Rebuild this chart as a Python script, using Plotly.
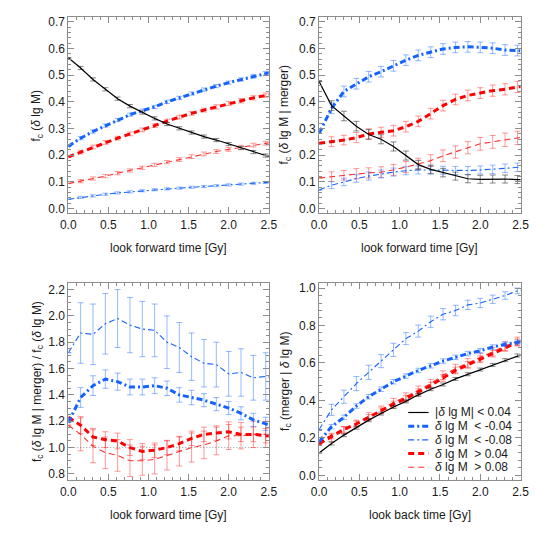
import plotly.graph_objects as go

# sample times [Gy]; last point lies just outside the plotted range
time_gy = [0.0, 0.154, 0.308, 0.462, 0.615, 0.769, 0.923, 1.077, 1.231,
           1.385, 1.538, 1.692, 1.846, 2.0, 2.154, 2.308, 2.462, 2.615]

# panel a: f_c(d lg M), look forward
fc_stable = [0.565, 0.527, 0.484, 0.447, 0.412, 0.384, 0.360, 0.338, 0.317,
             0.301, 0.285, 0.270, 0.257, 0.242, 0.227, 0.212, 0.199, 0.188]
fc_loss04 = [0.233, 0.264, 0.289, 0.311, 0.332, 0.352, 0.367, 0.381, 0.400,
             0.415, 0.431, 0.446, 0.459, 0.472, 0.484, 0.496, 0.507, 0.517]
fc_loss08 = [0.035, 0.042, 0.048, 0.054, 0.059, 0.063, 0.067, 0.071, 0.074,
             0.077, 0.080, 0.083, 0.086, 0.089, 0.092, 0.095, 0.098, 0.101]
fc_gain04 = [0.194, 0.212, 0.231, 0.248, 0.264, 0.280, 0.295, 0.311, 0.328,
             0.343, 0.357, 0.369, 0.381, 0.394, 0.404, 0.415, 0.425, 0.433]
fc_gain08 = [0.094, 0.103, 0.113, 0.122, 0.133, 0.143, 0.153, 0.164, 0.174,
             0.184, 0.195, 0.205, 0.214, 0.222, 0.230, 0.238, 0.245, 0.252]
err_fc_stable = [None, 0.006, 0.006, 0.006, 0.006, 0.006, 0.006, 0.006, 0.006,
                 0.006, 0.006, 0.006, 0.006, 0.006, 0.006, 0.006, 0.006, None]
err_fc_loss04 = [None, 0.006, 0.006, 0.006, 0.006, 0.006, 0.006, 0.006, 0.006,
                 0.006, 0.006, 0.006, 0.006, 0.006, 0.006, 0.007, 0.007, None]
err_fc_loss08 = [None, 0.004, 0.004, 0.004, 0.004, 0.004, 0.004, 0.004, 0.004,
                 0.004, 0.004, 0.004, 0.004, 0.004, 0.004, 0.004, 0.004, None]
err_fc_gain04 = [None, 0.007, 0.007, 0.007, 0.007, 0.007, 0.007, 0.007, 0.007,
                 0.007, 0.007, 0.007, 0.008, 0.008, 0.008, 0.008, 0.008, None]
err_fc_gain08 = [None, 0.006, 0.006, 0.006, 0.006, 0.006, 0.006, 0.006, 0.006,
                 0.007, 0.007, 0.007, 0.007, 0.007, 0.007, 0.007, 0.007, None]

# panel b: f_c(d lg M | merger), look forward
fm_stable = [0.476, 0.386, 0.347, 0.309, 0.278, 0.260, 0.233, 0.199, 0.165,
             0.147, 0.135, 0.122, 0.112, 0.110, 0.111, 0.111, 0.109, 0.108]
fm_loss04 = [0.282, 0.376, 0.439, 0.468, 0.494, 0.513, 0.535, 0.556, 0.574,
             0.586, 0.598, 0.604, 0.606, 0.604, 0.601, 0.594, 0.592, 0.590]
fm_loss08 = [0.070, 0.088, 0.100, 0.113, 0.122, 0.130, 0.137, 0.142, 0.145,
             0.145, 0.144, 0.143, 0.143, 0.145, 0.147, 0.151, 0.155, 0.158]
fm_gain04 = [0.245, 0.251, 0.257, 0.266, 0.280, 0.286, 0.292, 0.307, 0.327,
             0.356, 0.386, 0.409, 0.424, 0.433, 0.442, 0.447, 0.456, 0.460]
fm_gain08 = [0.115, 0.120, 0.125, 0.131, 0.134, 0.137, 0.145, 0.156, 0.168,
             0.180, 0.198, 0.212, 0.228, 0.243, 0.250, 0.258, 0.265, 0.272]
err_fm_stable = [None, 0.018, 0.018, 0.018, 0.018, 0.017, 0.017, 0.017, 0.016,
                 0.016, 0.016, 0.015, 0.015, 0.015, 0.015, 0.015, 0.015, None]
err_fm_loss04 = [None, 0.020, 0.020, 0.020, 0.020, 0.020, 0.020, 0.020, 0.020,
                 0.020, 0.020, 0.020, 0.020, 0.020, 0.020, 0.020, 0.020, None]
err_fm_loss08 = [None, 0.013, 0.014, 0.014, 0.015, 0.015, 0.015, 0.015, 0.015,
                 0.015, 0.015, 0.015, 0.015, 0.015, 0.016, 0.016, 0.016, None]
err_fm_gain04 = [None, 0.018, 0.018, 0.019, 0.019, 0.019, 0.020, 0.020, 0.020,
                 0.020, 0.020, 0.020, 0.020, 0.020, 0.021, 0.021, 0.021, None]
err_fm_gain08 = [None, 0.018, 0.018, 0.019, 0.019, 0.020, 0.020, 0.021, 0.021,
                 0.022, 0.022, 0.023, 0.023, 0.024, 0.024, 0.025, 0.025, None]

# panel c: ratio f_c(d lg M | merger) / f_c(d lg M)
ratio_loss04 = [1.19, 1.38, 1.47, 1.52, 1.50, 1.46, 1.46, 1.47, 1.45,
                1.40, 1.38, 1.36, 1.33, 1.30, 1.26, 1.21, 1.18, 1.15]
ratio_loss08 = [1.72, 1.87, 1.86, 1.94, 1.98, 1.93, 1.90, 1.89, 1.80,
                1.76, 1.69, 1.64, 1.63, 1.56, 1.57, 1.53, 1.54, 1.52]
ratio_gain04 = [1.23, 1.17, 1.08, 1.06, 1.05, 1.00, 0.97, 0.98, 1.00,
                1.03, 1.07, 1.10, 1.11, 1.12, 1.10, 1.10, 1.09, 1.08]
ratio_gain08 = [1.17, 1.10, 1.01, 0.96, 0.94, 0.90, 0.90, 0.91, 0.94,
                0.97, 1.00, 1.02, 1.05, 1.09, 1.09, 1.10, 1.10, 1.10]
err_ratio_loss04 = [None, 0.075, 0.075, 0.07, 0.065, 0.06, 0.06, 0.06, 0.055,
                    0.055, 0.055, 0.05, 0.05, 0.05, 0.05, 0.05, 0.05, None]
err_ratio_loss08 = [None, 0.23, 0.23, 0.23, 0.22, 0.21, 0.21, 0.20, 0.20,
                    0.19, 0.18, 0.18, 0.17, 0.17, 0.18, 0.17, 0.18, None]
err_ratio_gain04 = [None, 0.065, 0.065, 0.06, 0.06, 0.06, 0.06, 0.055, 0.055,
                    0.055, 0.055, 0.055, 0.055, 0.055, 0.055, 0.055, 0.055, None]
err_ratio_gain08 = [None, 0.125, 0.125, 0.12, 0.12, 0.12, 0.11, 0.11, 0.11,
                    0.11, 0.11, 0.105, 0.105, 0.105, 0.10, 0.10, 0.10, None]
RATIO_UNITY = 1.0

# panel d: f_c(merger | d lg M), look back
fb_stable = [0.120, 0.170, 0.215, 0.255, 0.295, 0.330, 0.365, 0.395, 0.430,
             0.460, 0.485, 0.515, 0.540, 0.565, 0.590, 0.615, 0.640, 0.660]
fb_loss04 = [0.180, 0.260, 0.310, 0.370, 0.420, 0.460, 0.500, 0.530, 0.560,
             0.585, 0.610, 0.630, 0.650, 0.665, 0.685, 0.700, 0.710, 0.720]
fb_loss08 = [0.245, 0.350, 0.420, 0.490, 0.550, 0.610, 0.670, 0.730, 0.770,
             0.820, 0.860, 0.880, 0.910, 0.920, 0.940, 0.960, 0.985, 1.000]
fb_gain04 = [0.170, 0.210, 0.245, 0.275, 0.310, 0.345, 0.380, 0.410, 0.445,
             0.480, 0.520, 0.560, 0.590, 0.620, 0.650, 0.680, 0.710, 0.730]
fb_gain08 = [0.165, 0.200, 0.240, 0.275, 0.315, 0.350, 0.390, 0.420, 0.455,
             0.490, 0.535, 0.570, 0.600, 0.630, 0.660, 0.690, 0.715, 0.735]
err_fb_stable = [None, 0.008, 0.008, 0.008, 0.008, 0.008, 0.008, 0.008, 0.008,
                 0.008, 0.008, 0.008, 0.008, 0.008, 0.008, 0.008, 0.008, None]
err_fb_loss04 = [None, 0.012, 0.012, 0.012, 0.012, 0.012, 0.012, 0.012, 0.012,
                 0.012, 0.012, 0.012, 0.012, 0.012, 0.012, 0.012, 0.012, None]
err_fb_loss08 = [None, 0.030, 0.035, 0.038, 0.038, 0.035, 0.035, 0.032, 0.032,
                 0.030, 0.030, 0.028, 0.025, 0.025, 0.022, 0.020, 0.015, None]
err_fb_gain04 = [None, 0.015, 0.015, 0.015, 0.015, 0.015, 0.016, 0.016, 0.017,
                 0.017, 0.018, 0.018, 0.018, 0.018, 0.018, 0.018, 0.018, None]
err_fb_gain08 = [None, 0.020, 0.020, 0.020, 0.020, 0.020, 0.021, 0.021, 0.022,
                 0.022, 0.023, 0.023, 0.023, 0.023, 0.023, 0.023, 0.023, None]

LEGEND_TEXT = {
    "stable": "|<i>δ</i> lg M| < 0.04",
    "loss04": "<i>δ</i> lg M\u00a0 < -0.04",
    "loss08": "<i>δ</i> lg M\u00a0 < -0.08",
    "gain04": "<i>δ</i> lg M\u00a0 > 0.04",
    "gain08": "<i>δ</i> lg M\u00a0 > 0.08",
}

FONT = "Liberation Sans"
AXIS_GRAY = "#8c8c8c"
BLUE = "#1463ff"
RED = "#ff0000"
DASHDOT = "6px,3px,2px,3px"
DASH = "6px,4px"

STYLE = {
    "stable": dict(color="#000000", width=1.2, dash="solid", err="rgba(40,40,40,0.55)"),
    "loss04": dict(color=BLUE, width=3, dash=DASHDOT, err="rgba(20,99,255,0.45)"),
    "loss08": dict(color=BLUE, width=1.1, dash=DASHDOT, err="rgba(20,99,255,0.45)"),
    "gain04": dict(color=RED, width=3, dash=DASH, err="rgba(255,0,0,0.4)"),
    "gain08": dict(color="#ff3030", width=1.1, dash=DASH, err="rgba(255,0,0,0.4)"),
}

# the page body adds an 8px margin, so all pixel targets are shifted back by it
W = H = 538
PAGE_MARGIN = 8
# pixel boxes of the four panels (left, top, right, bottom) as seen in the window
BOXES = [(62, 15, 269, 213), (321, 15, 529, 213), (62, 283, 269, 482), (321, 283, 529, 482)]
YRANGES = [[-0.018, 0.718], [-0.018, 0.718], [0.75, 2.25], [-0.027, 1.027]]
YDTICK = [0.1, 0.1, 0.2, 0.2]
YMINOR = [0.02, 0.02, 0.05, 0.04]
XTITLES = ["look forward time [Gy]", "look forward time [Gy]",
           "look forward time [Gy]", "look back time [Gy]"]
YTITLES = [
    "f<sub>c</sub> (<i>δ</i> lg M)",
    "f<sub>c</sub> (<i>δ</i> lg M | merger)",
    "f<sub>c</sub> (<i>δ</i> lg M | merger) / f<sub>c</sub> (<i>δ</i> lg M)",
    "f<sub>c</sub> (merger | <i>δ</i> lg M)",
]

PANEL_SERIES = [
    [("gain08", fc_gain08, err_fc_gain08), ("loss08", fc_loss08, err_fc_loss08),
     ("gain04", fc_gain04, err_fc_gain04), ("loss04", fc_loss04, err_fc_loss04),
     ("stable", fc_stable, err_fc_stable)],
    [("gain08", fm_gain08, err_fm_gain08), ("loss08", fm_loss08, err_fm_loss08),
     ("gain04", fm_gain04, err_fm_gain04), ("loss04", fm_loss04, err_fm_loss04),
     ("stable", fm_stable, err_fm_stable)],
    [("gain08", ratio_gain08, err_ratio_gain08), ("loss08", ratio_loss08, err_ratio_loss08),
     ("gain04", ratio_gain04, err_ratio_gain04), ("loss04", ratio_loss04, err_ratio_loss04)],
    [("gain08", fb_gain08, err_fb_gain08), ("loss08", fb_loss08, err_fb_loss08),
     ("gain04", fb_gain04, err_fb_gain04), ("loss04", fb_loss04, err_fb_loss04),
     ("stable", fb_stable, err_fb_stable)],
]


def px(x):
    return (x - PAGE_MARGIN) / W


def py(y):
    return 1 - (y - PAGE_MARGIN) / H


def axis_style(rng, dtick, minor_dtick, domain, anchor):
    return dict(
        range=rng, domain=domain, anchor=anchor,
        showline=True, linecolor=AXIS_GRAY, linewidth=1, mirror="allticks",
        ticks="inside", ticklen=6, tickwidth=1, tickcolor=AXIS_GRAY,
        minor=dict(ticks="inside", ticklen=3, dtick=minor_dtick, tick0=0,
                   tickcolor=AXIS_GRAY, tickwidth=1, showgrid=False),
        tick0=0, dtick=dtick, tickformat=".1f", ticklabeloverflow="allow",
        showgrid=False, zeroline=False,
        tickfont=dict(family=FONT, size=12, color="#1a1a1a"),
    )


fig = go.Figure()
layout = dict(
    width=W, height=H, margin=dict(l=0, r=0, t=0, b=0),
    paper_bgcolor="white", plot_bgcolor="white", showlegend=False,
)
annotations = []
shapes = []

for k, (l, t, r, b) in enumerate(BOXES):
    n = "" if k == 0 else str(k + 1)
    layout["xaxis" + n] = axis_style([0, 2.5], 0.5, 0.1, [px(l), px(r)], "y" + n)
    layout["yaxis" + n] = axis_style(YRANGES[k], YDTICK[k], YMINOR[k], [py(b), py(t)], "x" + n)

    for key, vals, errs in PANEL_SERIES[k]:
        st = STYLE[key]
        fig.add_trace(go.Scatter(
            x=time_gy, y=vals, mode="lines",
            line=dict(color=st["color"], width=st["width"], dash=st["dash"]),
            error_y=dict(type="data", array=errs, color=st["err"], thickness=1, width=3),
            xaxis="x" + n, yaxis="y" + n, hoverinfo="skip",
        ))

    annotations.append(dict(
        text=XTITLES[k], x=px((l + r) / 2), y=py(248 if k < 2 else 517),
        xref="paper", yref="paper", showarrow=False, xanchor="center", yanchor="middle",
        font=dict(family=FONT, size=12, color="#1a1a1a"),
    ))
    annotations.append(dict(
        text=YTITLES[k], x=px(l - 32 if k % 2 == 0 else l - 35), y=py((t + b) / 2),
        xref="paper", yref="paper", showarrow=False, textangle=-90,
        xanchor="center", yanchor="middle",
        font=dict(family=FONT, size=12, color="#1a1a1a"),
    ))

# dotted unity line in the ratio panel
shapes.append(dict(
    type="line", xref="x3 domain", yref="y3", x0=0, x1=1, y0=RATIO_UNITY, y1=RATIO_UNITY,
    line=dict(color="#999999", width=1, dash="1px,2px"), layer="below",
))

# hand-drawn legend in the lower-right panel
for i, key in enumerate(["stable", "loss04", "loss08", "gain04", "gain08"]):
    st = STYLE[key]
    yy = py(413.5 + 13.8 * i)
    shapes.append(dict(
        type="line", xref="paper", yref="paper", x0=px(413), x1=px(434), y0=yy, y1=yy,
        line=dict(color=st["color"], width=st["width"], dash=st["dash"]),
    ))
    annotations.append(dict(
        text=LEGEND_TEXT[key], x=px(439), y=yy, xref="paper", yref="paper",
        showarrow=False, xanchor="left", yanchor="middle",
        font=dict(family=FONT, size=12, color="#1a1a1a"),
    ))

layout["annotations"] = annotations
layout["shapes"] = shapes
fig.update_layout(**layout)

fig.write_html("out.html")
